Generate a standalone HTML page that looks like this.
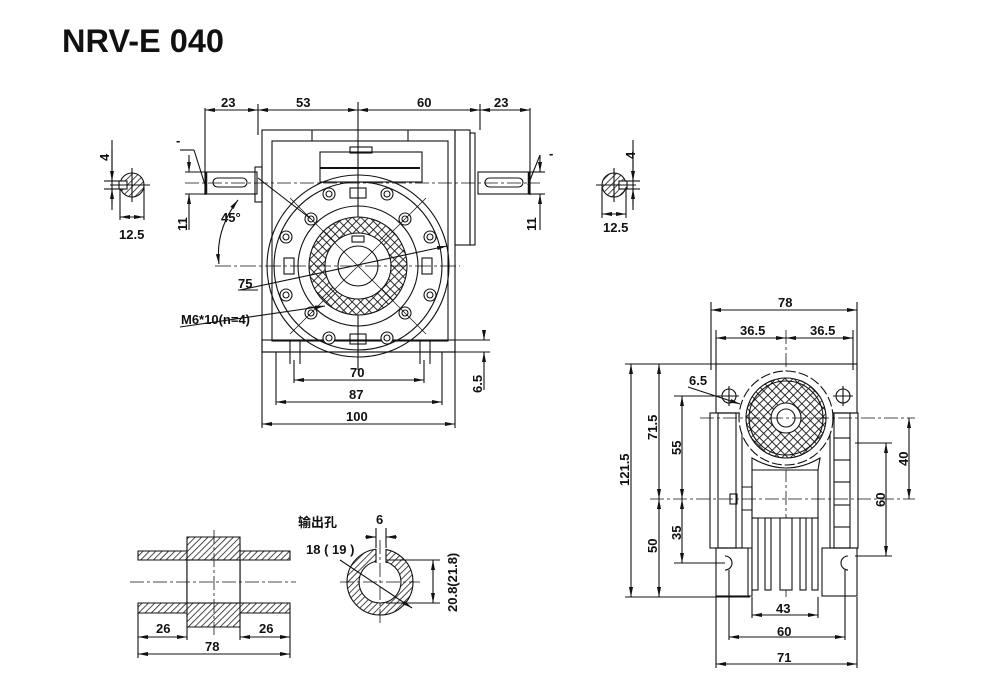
<!DOCTYPE html>
<html><head><meta charset="utf-8"><style>
html,body{margin:0;padding:0;background:#fff;}
svg{display:block;}
text{font-family:"Liberation Sans","Noto Sans CJK SC",sans-serif;font-weight:bold;fill:#111;}
</style></head><body>
<svg width="990" height="697" viewBox="0 0 990 697" xmlns="http://www.w3.org/2000/svg">
<defs>
<pattern id="xh" width="6" height="6" patternUnits="userSpaceOnUse" patternTransform="rotate(45)">
<rect width="6" height="6" fill="#fff"/><path d="M0 0H6M0 0V6" stroke="#111" stroke-width="1.7"/></pattern>
<pattern id="dh" width="4.5" height="4.5" patternUnits="userSpaceOnUse" patternTransform="rotate(45)">
<rect width="4.5" height="4.5" fill="#fff"/><path d="M0 0V4.5" stroke="#111" stroke-width="1.5"/></pattern>
<marker id="a" markerWidth="10" markerHeight="6" refX="10" refY="3" orient="auto-start-reverse" markerUnits="userSpaceOnUse"><path d="M0 1L10 3L0 5Z" fill="#111"/></marker>
</defs>
<text x="62" y="52" font-size="32.5">NRV-E 040</text>

<g stroke="#111" stroke-width="1.1" fill="none">
<!-- top dims -->
<line x1="205" y1="108" x2="205" y2="195"/><line x1="258" y1="104" x2="258" y2="135"/>
<line x1="358" y1="102" x2="358" y2="370"/><line x1="480" y1="104" x2="480" y2="130"/><line x1="530" y1="108" x2="530" y2="195"/>
<line x1="205" y1="110" x2="258" y2="110" marker-start="url(#a)" marker-end="url(#a)"/>
<line x1="258" y1="110" x2="358" y2="110" marker-start="url(#a)" marker-end="url(#a)"/>
<line x1="358" y1="110" x2="480" y2="110" marker-start="url(#a)" marker-end="url(#a)"/>
<line x1="480" y1="110" x2="530" y2="110" marker-start="url(#a)" marker-end="url(#a)"/>
<!-- housing -->
<rect x="262" y="130" width="193" height="222"/>
<rect x="272" y="141" width="176" height="200"/>
<line x1="312" y1="130" x2="312" y2="141"/><line x1="408" y1="130" x2="408" y2="141"/>
<rect x="320" y="152" width="102" height="30"/><rect x="350" y="147" width="22" height="6"/>
<line x1="320" y1="168" x2="420" y2="168" stroke-width="2"/>
<rect x="455" y="130" width="15" height="115"/><rect x="470" y="133" width="5" height="112"/>
<rect x="255" y="167" width="7" height="35"/>
<!-- shafts -->
<rect x="205" y="172" width="52" height="22"/><rect x="213" y="178" width="34" height="9" rx="4.5"/>
<rect x="478" y="172" width="52" height="22"/><rect x="485" y="178" width="38" height="9" rx="4.5"/>
<line x1="206" y1="172" x2="206" y2="194" stroke-width="2.5"/><line x1="529" y1="172" x2="529" y2="194" stroke-width="2.5"/>
<line x1="185" y1="183" x2="540" y2="183" stroke-dasharray="14 3 3 3" stroke-width="0.8"/>
<!-- feet -->
<rect x="262" y="340" width="193" height="12"/>
<line x1="290" y1="340" x2="290" y2="364"/><line x1="300" y1="340" x2="300" y2="364"/><line x1="420" y1="340" x2="420" y2="364"/><line x1="430" y1="340" x2="430" y2="364"/>
<!-- flange -->
<circle cx="358" cy="266" r="91"/><circle cx="358" cy="266" r="84"/><circle cx="358" cy="266" r="60"/>
<circle cx="358" cy="266" r="49" fill="url(#xh)"/><circle cx="358" cy="266" r="33" fill="#fff"/>
<circle cx="358" cy="266" r="20"/>
<rect x="352" y="236" width="12" height="6" fill="#fff"/>
<g fill="#fff">
<circle cx="311" cy="219" r="6"/><circle cx="405" cy="219" r="6"/><circle cx="311" cy="313" r="6"/><circle cx="405" cy="313" r="6"/>
<circle cx="329" cy="194" r="6"/><circle cx="387" cy="194" r="6"/><circle cx="329" cy="338" r="6"/><circle cx="387" cy="338" r="6"/>
<circle cx="286" cy="237" r="6"/><circle cx="430" cy="237" r="6"/><circle cx="286" cy="295" r="6"/><circle cx="430" cy="295" r="6"/>
</g>
<g fill="none"><circle cx="311" cy="219" r="3"/><circle cx="405" cy="219" r="3"/><circle cx="311" cy="313" r="3"/><circle cx="405" cy="313" r="3"/>
<circle cx="329" cy="194" r="3"/><circle cx="387" cy="194" r="3"/><circle cx="329" cy="338" r="3"/><circle cx="387" cy="338" r="3"/>
<circle cx="286" cy="237" r="3"/><circle cx="430" cy="237" r="3"/><circle cx="286" cy="295" r="3"/><circle cx="430" cy="295" r="3"/></g>
<rect x="350" y="188" width="16" height="10"/><rect x="350" y="334" width="16" height="10"/>
<rect x="284" y="258" width="10" height="16"/><rect x="422" y="258" width="10" height="16"/>
<line x1="215" y1="266" x2="460" y2="266" stroke-dasharray="16 3 3 3" stroke-width="0.8"/>
<line x1="290" y1="198" x2="426" y2="334" stroke-width="0.7"/><line x1="426" y1="198" x2="290" y2="334" stroke-width="0.7"/>
<!-- 45 deg -->
<line x1="258" y1="178" x2="311" y2="219"/>
<path d="M238 200 Q215 230 219 264" marker-start="url(#a)" marker-end="url(#a)"/>
<line x1="240" y1="290" x2="447" y2="246" marker-end="url(#a)"/><line x1="238" y1="290" x2="258" y2="290"/>
<line x1="180" y1="327" x2="325" y2="306" marker-end="url(#a)"/>
<line x1="180" y1="150" x2="194" y2="150"/><line x1="194" y1="150" x2="206" y2="188"/>
<line x1="540" y1="155" x2="528" y2="185"/>
<!-- 11 dims -->
<line x1="185" y1="172" x2="205" y2="172"/><line x1="185" y1="194" x2="205" y2="194"/>
<line x1="189" y1="155" x2="189" y2="172" marker-end="url(#a)"/><line x1="189" y1="230" x2="189" y2="194" marker-end="url(#a)"/>
<line x1="530" y1="172" x2="545" y2="172"/><line x1="530" y1="194" x2="545" y2="194"/>
<line x1="540" y1="155" x2="540" y2="172" marker-end="url(#a)"/><line x1="540" y1="230" x2="540" y2="194" marker-end="url(#a)"/>
<!-- bottom dims -->
<line x1="262" y1="352" x2="262" y2="428"/><line x1="455" y1="352" x2="455" y2="428"/>
<line x1="276" y1="352" x2="276" y2="405"/><line x1="442" y1="352" x2="442" y2="405"/>
<line x1="294" y1="360" x2="294" y2="383"/><line x1="424" y1="360" x2="424" y2="383"/>
<line x1="294" y1="380" x2="424" y2="380" marker-start="url(#a)" marker-end="url(#a)"/>
<line x1="276" y1="402" x2="442" y2="402" marker-start="url(#a)" marker-end="url(#a)"/>
<line x1="262" y1="424" x2="455" y2="424" marker-start="url(#a)" marker-end="url(#a)"/>
<line x1="440" y1="352" x2="490" y2="352"/><line x1="440" y1="340" x2="490" y2="340"/>
<line x1="484" y1="330" x2="484" y2="340" marker-end="url(#a)"/><line x1="484" y1="390" x2="484" y2="352" marker-end="url(#a)"/>
<!-- shaft sections -->
<circle cx="132" cy="185" r="12" fill="url(#dh)"/><rect x="119" y="181" width="8" height="8" fill="#fff"/>
<line x1="110" y1="185" x2="150" y2="185"/><line x1="132" y1="168" x2="132" y2="202"/>
<line x1="112" y1="140" x2="112" y2="210"/>
<line x1="112" y1="150" x2="112" y2="181" marker-end="url(#a)"/><line x1="112" y1="205" x2="112" y2="189" marker-end="url(#a)"/>
<line x1="104" y1="181" x2="120" y2="181"/><line x1="104" y1="189" x2="120" y2="189"/>
<line x1="120" y1="189" x2="120" y2="220"/><line x1="144" y1="187" x2="144" y2="220"/>
<line x1="120" y1="217" x2="144" y2="217" marker-start="url(#a)" marker-end="url(#a)"/>
<circle cx="614" cy="185" r="12" fill="url(#dh)"/><rect x="619" y="181" width="8" height="8" fill="#fff"/>
<line x1="596" y1="185" x2="636" y2="185"/><line x1="614" y1="168" x2="614" y2="202"/>
<line x1="633" y1="140" x2="633" y2="210"/>
<line x1="633" y1="150" x2="633" y2="181" marker-end="url(#a)"/><line x1="633" y1="205" x2="633" y2="189" marker-end="url(#a)"/>
<line x1="625" y1="181" x2="640" y2="181"/><line x1="625" y1="189" x2="640" y2="189"/>
<line x1="602" y1="187" x2="602" y2="218"/><line x1="626" y1="187" x2="626" y2="218"/>
<line x1="602" y1="214" x2="626" y2="214" marker-start="url(#a)" marker-end="url(#a)"/>

<!-- side view -->
<line x1="711" y1="302" x2="711" y2="370"/><line x1="857" y1="302" x2="857" y2="370"/>
<line x1="716" y1="330" x2="716" y2="370"/><line x1="853" y1="330" x2="853" y2="370"/>
<line x1="711" y1="310" x2="857" y2="310" marker-start="url(#a)" marker-end="url(#a)"/>
<line x1="716" y1="338" x2="786" y2="338" marker-start="url(#a)" marker-end="url(#a)"/>
<line x1="786" y1="338" x2="853" y2="338" marker-start="url(#a)" marker-end="url(#a)"/>
<line x1="786" y1="330" x2="786" y2="600" stroke-dasharray="14 3 3 3" stroke-width="0.8"/>
<rect x="716" y="364" width="141" height="49"/>
<rect x="710" y="413" width="32" height="135"/><rect x="718" y="413" width="18" height="135"/>
<rect x="830" y="413" width="28" height="135"/><rect x="834" y="413" width="16" height="135"/>
<line x1="834" y1="438" x2="850" y2="438"/><line x1="834" y1="460" x2="850" y2="460"/><line x1="834" y1="482" x2="850" y2="482"/><line x1="834" y1="505" x2="850" y2="505"/><line x1="834" y1="527" x2="850" y2="527"/>
<path d="M752 470 H818 V518 H752 Z"/><path d="M742 487 H752 V510 H742"/>
<rect x="730" y="494" width="7" height="10"/>
<circle cx="786" cy="418" r="47" stroke-dasharray="10 3" fill="#fff"/>
<circle cx="786" cy="418" r="40" fill="url(#xh)"/><circle cx="786" cy="418" r="37" fill="none"/>
<circle cx="786" cy="418" r="15" fill="#fff"/><circle cx="786" cy="418" r="9"/>
<path d="M752 458 Q786 478 820 458 L818 470 H752 Z" fill="#fff"/>
<circle cx="729" cy="396" r="7" fill="#fff"/><circle cx="843" cy="396" r="7" fill="#fff"/>
<line x1="719" y1="396" x2="739" y2="396"/><line x1="729" y1="386" x2="729" y2="406"/>
<line x1="833" y1="396" x2="853" y2="396"/><line x1="843" y1="386" x2="843" y2="406"/>
<rect x="716" y="548" width="32" height="48"/><rect x="822" y="548" width="35" height="48"/>
<path d="M748 548 H752 V596 H748"/>
<g fill="#fff"><rect x="752" y="518" width="6" height="72"/><rect x="765" y="518" width="6" height="72"/><rect x="780" y="518" width="12" height="72"/><rect x="800" y="518" width="6" height="72"/><rect x="812" y="518" width="6" height="72"/></g>
<path d="M725 556 a7 7 0 0 1 0 14"/><path d="M848 556 a-7 7 0 0 0 0 14"/>
<line x1="700" y1="418" x2="915" y2="418" stroke-dasharray="14 3 3 3" stroke-width="0.8"/>
<line x1="650" y1="499" x2="915" y2="499" stroke-dasharray="14 3 3 3" stroke-width="0.8"/>
<line x1="625" y1="364" x2="716" y2="364"/><line x1="625" y1="597" x2="750" y2="597"/>
<line x1="674" y1="396" x2="722" y2="396"/><line x1="674" y1="563" x2="725" y2="563"/>
<line x1="631" y1="364" x2="631" y2="597" marker-start="url(#a)" marker-end="url(#a)"/>
<line x1="659" y1="364" x2="659" y2="499" marker-start="url(#a)" marker-end="url(#a)"/>
<line x1="659" y1="499" x2="659" y2="597" marker-start="url(#a)" marker-end="url(#a)"/>
<line x1="682" y1="396" x2="682" y2="499" marker-start="url(#a)" marker-end="url(#a)"/>
<line x1="682" y1="499" x2="682" y2="563" marker-start="url(#a)" marker-end="url(#a)"/>
<line x1="688" y1="387" x2="740" y2="404" marker-end="url(#a)"/>
<line x1="855" y1="443" x2="892" y2="443"/><line x1="855" y1="556" x2="892" y2="556"/>
<line x1="886" y1="443" x2="886" y2="556" marker-start="url(#a)" marker-end="url(#a)"/>
<line x1="909" y1="418" x2="909" y2="499" marker-start="url(#a)" marker-end="url(#a)"/>
<line x1="752" y1="597" x2="752" y2="618"/><line x1="818" y1="597" x2="818" y2="618"/>
<line x1="729" y1="570" x2="729" y2="640"/><line x1="845" y1="570" x2="845" y2="640"/>
<line x1="716" y1="597" x2="716" y2="668"/><line x1="857" y1="597" x2="857" y2="668"/>
<line x1="752" y1="615" x2="818" y2="615" marker-start="url(#a)" marker-end="url(#a)"/>
<line x1="729" y1="637" x2="845" y2="637" marker-start="url(#a)" marker-end="url(#a)"/>
<line x1="716" y1="664" x2="857" y2="664" marker-start="url(#a)" marker-end="url(#a)"/>

<!-- hollow shaft section -->
<path d="M138 551 H187 V545 H240 V551 H290 V560 H240 V603 H290 V613 H240 V619 H187 V613 H138 V603 H187 V560 H138 Z" fill="url(#dh)"/>
<path d="M187 537 H240 V627 H187 Z" fill="url(#dh)"/>
<rect x="187" y="560" width="53" height="43" fill="#fff"/>
<line x1="138" y1="560" x2="187" y2="560"/><line x1="138" y1="603" x2="187" y2="603"/>
<line x1="240" y1="560" x2="290" y2="560"/><line x1="240" y1="603" x2="290" y2="603"/>
<line x1="130" y1="582" x2="296" y2="582" stroke-dasharray="14 3 3 3" stroke-width="0.8"/>
<line x1="214" y1="530" x2="214" y2="635" stroke-dasharray="14 3 3 3" stroke-width="0.8"/>
<line x1="138" y1="613" x2="138" y2="658"/><line x1="290" y1="613" x2="290" y2="658"/>
<line x1="187" y1="627" x2="187" y2="640"/><line x1="240" y1="627" x2="240" y2="640"/>
<line x1="138" y1="637" x2="187" y2="637" marker-start="url(#a)" marker-end="url(#a)"/>
<line x1="240" y1="637" x2="290" y2="637" marker-start="url(#a)" marker-end="url(#a)"/>
<line x1="138" y1="654" x2="290" y2="654" marker-start="url(#a)" marker-end="url(#a)"/>
<circle cx="380" cy="582" r="33" fill="url(#dh)"/><circle cx="380" cy="582" r="21" fill="#fff"/>
<rect x="376" y="548" width="10" height="15" fill="#fff" stroke="none"/>
<path d="M376 549 V563 M386 549 V563"/>
<line x1="340" y1="582" x2="420" y2="582" stroke-dasharray="14 3 3 3" stroke-width="0.8"/>
<line x1="380" y1="540" x2="380" y2="625" stroke-dasharray="14 3 3 3" stroke-width="0.8"/>
<line x1="376" y1="528" x2="376" y2="548"/><line x1="386" y1="528" x2="386" y2="548"/>
<line x1="365" y1="537" x2="376" y2="537" marker-end="url(#a)"/><line x1="397" y1="537" x2="386" y2="537" marker-end="url(#a)"/>
<line x1="340" y1="560" x2="412" y2="608" marker-end="url(#a)"/>
<line x1="386" y1="560" x2="440" y2="560"/><line x1="386" y1="603" x2="440" y2="603"/>
<line x1="433" y1="560" x2="433" y2="603" marker-start="url(#a)" marker-end="url(#a)"/>
</g>

<g font-size="13">
<text x="221" y="107">23</text><text x="296" y="107">53</text><text x="417" y="107">60</text><text x="494" y="107">23</text>
<text x="221" y="222">45°</text>
<text x="238" y="288">75</text>
<text x="181" y="324">M6*10(n=4)</text>
<text x="350" y="377">70</text><text x="349" y="399">87</text><text x="346" y="421">100</text>
<text x="119" y="239">12.5</text><text x="603" y="232">12.5</text>
<text x="778" y="307">78</text><text x="740" y="335">36.5</text><text x="810" y="335">36.5</text>
<text x="689" y="385">6.5</text>
<text x="776" y="613">43</text><text x="777" y="636">60</text><text x="777" y="662">71</text>
<text x="156" y="633">26</text><text x="259" y="633">26</text><text x="205" y="651">78</text>
<text x="376" y="524">6</text>
<text x="306" y="554">18 ( 19 )</text>
<text x="298" y="527" font-weight="normal">输出孔</text>
<text x="176" y="145">-</text><text x="549" y="158">-</text>
</g>
<g font-size="13">
<text transform="translate(109,161) rotate(-90)">4</text>
<text transform="translate(635,159) rotate(-90)">4</text>
<text transform="translate(187,231) rotate(-90)">11</text>
<text transform="translate(536,231) rotate(-90)">11</text>
<text transform="translate(482,393) rotate(-90)">6.5</text>
<text transform="translate(629,486) rotate(-90)">121.5</text>
<text transform="translate(657,440) rotate(-90)">71.5</text>
<text transform="translate(681,455) rotate(-90)">55</text>
<text transform="translate(657,553) rotate(-90)">50</text>
<text transform="translate(681,540) rotate(-90)">35</text>
<text transform="translate(908,466) rotate(-90)">40</text>
<text transform="translate(885,507) rotate(-90)">60</text>
<text transform="translate(457,612) rotate(-90)">20.8(21.8)</text>
</g>
</svg>
</body></html>
